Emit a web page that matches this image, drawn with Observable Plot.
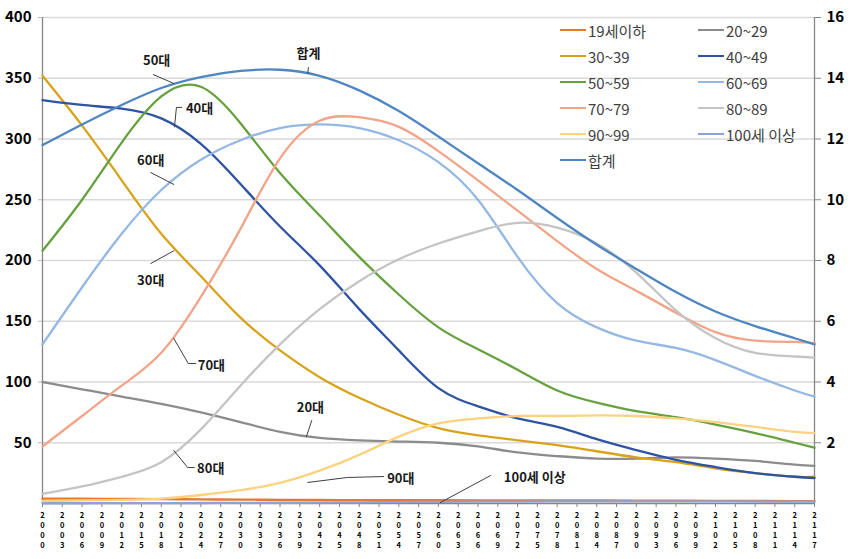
<!DOCTYPE html>
<html><head><meta charset="utf-8">
<script src="https://cdn.jsdelivr.net/npm/d3@7"></script>
<script src="https://cdn.jsdelivr.net/npm/@observablehq/plot@0.6"></script>
<style>
body{margin:0;background:#fff;font-family:"Noto Sans CJK KR","Noto Sans",sans-serif;}
#wrap{position:relative;width:854px;height:559px;overflow:hidden;}
#legend{position:absolute;left:560px;top:17px;display:grid;grid-template-columns:138px 130px;row-gap:0px;}
.item{display:flex;align-items:center;height:26px;font-size:15px;color:#404040;white-space:nowrap;}
.sw{width:26px;height:0;border-top:2.5px solid;margin-right:2px;}
</style></head><body><div id="wrap"><div id="legend"></div></div>
<script>
const years = [2000,2006,2012,2018,2024,2030,2036,2042,2048,2054,2060,2066,2072,2078,2084,2090,2096,2102,2108,2114,2117];
const under19 = [4,3.9,3.8,3.6,3.4,3.2,3.0,2.9,2.8,2.7,2.7,2.6,2.6,2.5,2.5,2.4,2.3,2.2,2.1,2.0,2.0];
const age20s = [100,94,88,82,75,67,59,54,52,51,50,47,42,39,37,37,38,37,35,32,31];
const age30s = [352,311,266,222,187,153,126,104,87,73,62,56,52,48,43,38,34,29,25,22,22];
const age40s = [332,328,325,317,296,263,228,196,160,126,95,80,70,63,53,44,36,30,25,22,21];
const age50s = [208,250,297,335,343,313,272,237,203,172,145,127,110,93,83,76,71,65,58,50,46];
const age60s = [131,178,222,258,283,299,309,312,309,299,281,250,203,165,145,134,128,118,105,93,88];
const age70s = [47,72,97,124,170,226,284,315,318,310,290,266,241,216,193,175,157,141,134,133,132];
const age80s = [8,14,22,34,61,97,131,160,183,201,214,224,231,227,214,190,159,136,124,121,120];
const age90s = [2,2.5,3,4,7,11,17,27,40,55,66,70,72,72,72.5,72,70,67,63,59,58];
const age100 = [0.2,0.2,0.3,0.3,0.4,0.5,0.6,0.8,1,1.2,1.4,1.5,1.6,1.7,1.7,1.7,1.7,1.7,1.6,1.6,1.5];
const total = [295,312,328,342,351,356,357,352,340,323,302,280,258,235,213,193,174,158,146,136,131];

const seriesNames = ["19세이하","20~29","30~39","40~49","50~59","60~69","70~79","80~89","90~99","100세 이상","합계"];
const seriesValues = [under19,age20s,age30s,age40s,age50s,age60s,age70s,age80s,age90s,age100,total];
const seriesColors = ["#E8782F","#8C8C8C","#D9A21B","#2E54A1","#67A03E","#94B8E3","#F2A488","#C4C4C4","#FBD27E","#8EA2D8","#4E86C1"];

const tickYears = d3.range(2000, 2118, 3);
const leftTicks = [50,100,150,200,250,300,350,400];
const rightTicks = [2,4,6,8,10,12,14,16];

const annoLabels = ["50대","40대","60대","30대","70대","80대","20대","90대","100세 이상","합계"];
const annoX = [2017.3,2023.8,2016.4,2016.4,2025.6,2025.5,2040.6,2054.3,2074.6,2040.3];
const annoY = [364.6,325.1,282.3,183.5,113.6,28.8,79.0,20.6,21.4,370.4];
const leaders = [
  [[2016.8,353],[2019.9,345.7]],
  [[2021.1,326],[2020.3,326],[2020.0,310]],
  [[2016.4,272.4],[2019.9,262.6]],
  [[2016.4,197.5],[2019.9,208]],
  [[2019.9,135.8],[2022.1,115.2],[2023.2,115.2]],
  [[2019.9,43.6],[2022.0,29.6],[2023.0,29.6]],
  [[2040.8,68.3],[2040.0,55.1]],
  [[2040.2,17.3],[2046.2,21.4],[2051.7,22.2]],
  [[2067.9,23],[2060.3,0.8]],
  [[2040.3,358.8],[2040.2,353.9]]
];

const long = [];
seriesNames.forEach((s, si) => years.forEach((y, i) => long.push({series: s, year: y, value: seriesValues[si][i]})));
const leaderRows = [];
leaders.forEach((pts, g) => pts.forEach(p => leaderRows.push({g, x: p[0], y: p[1]})));

const font = '"Noto Sans CJK KR","Noto Sans",sans-serif';
const chart = Plot.plot({
  width: 854, height: 559,
  marginLeft: 42, marginRight: 40, marginTop: 17, marginBottom: 56,
  style: {fontFamily: font, background: "transparent", color: "#000"},
  x: {domain: [2000, 2117], label: null},
  y: {domain: [0, 400], label: null},
  color: {domain: seriesNames, range: seriesColors},
  marks: [
    Plot.gridY(leftTicks, {stroke: "#d9d9d9", strokeOpacity: 1, strokeWidth: 1.3}),
    Plot.ruleX([2000], {stroke: "#868686", strokeWidth: 1.3}),
    Plot.ruleX([2117], {stroke: "#868686", strokeWidth: 1.3}),
    Plot.ruleY([0], {stroke: "#868686", strokeWidth: 1.3}),
    Plot.axisY(leftTicks, {anchor: "left", tickSize: 4, tickPadding: 7, stroke: "#bbb", fontSize: 15, fontWeight: "bold", fill: "#000"}),
    Plot.axisY(rightTicks.map(v => v * 25), {anchor: "right", tickFormat: d => String(d / 25), tickSize: 6, tickPadding: 6, stroke: "#868686", fontSize: 15, fontWeight: "bold", fill: "#000"}),
    Plot.axisX(tickYears, {anchor: "bottom", tickSize: 4, tickPadding: 4, stroke: "#868686", fontSize: 7.5, fontWeight: "bold", fill: "#000", lineHeight: 1.3, tickFormat: d => String(d).split("").join("\n")}),
    Plot.line(long, {x: "year", y: "value", z: "series", stroke: "series", curve: "natural", strokeWidth: 2.3}),
    Plot.line(leaderRows, {x: "x", y: "y", z: "g", stroke: "#404040", strokeWidth: 1}),
    Plot.text(annoLabels, {x: (d, i) => annoX[i], y: (d, i) => annoY[i], text: d => d, fontSize: 13, fontWeight: "bold", fill: "#1a1a1a"})
  ]
});
const wrap = document.getElementById("wrap");
wrap.insertBefore(chart, wrap.firstChild);

const legend = document.getElementById("legend");
seriesNames.forEach((s, i) => {
  const it = document.createElement("div");
  it.className = "item";
  const sw = document.createElement("span");
  sw.className = "sw";
  sw.style.borderTopColor = seriesColors[i];
  it.appendChild(sw);
  it.appendChild(document.createTextNode(s));
  legend.appendChild(it);
});
</script>
</body></html>
